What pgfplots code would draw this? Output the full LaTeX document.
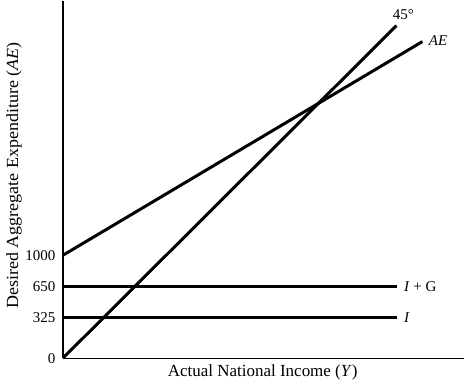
\documentclass[border=0pt]{standalone}
\usepackage{pgfplots}
\pgfplotsset{compat=1.18}
\usepackage{fontspec}
\setmainfont{Liberation Serif}
\begin{document}
\begin{tikzpicture}[x=1pt,y=1pt]
\begin{axis}[
  scale only axis,
  width=402pt, height=358pt,
  xmin=0, xmax=402, ymin=0, ymax=358,
  axis x line=bottom, axis y line=left,
  axis line style={-, line width=1.2pt},
  xtick=\empty,
  ytick={0,41,72,103},
  yticklabels={0,325,650,1000},
  major tick length=0pt,
  yticklabel style={font=\fontsize{15}{17}\selectfont, xshift=-4pt},
  /pgf/number format/assume math mode=true,
  clip=false,
]
\path (axis cs:-63,-24) rectangle (axis cs:402,358);
\addplot[black, line width=3pt] coordinates {(0,41) (335,41)};
\addplot[black, line width=3pt] coordinates {(0,72) (335,72)};
\addplot[black, line width=3pt] coordinates {(0,103) (360,317)};
\addplot[black, line width=3pt] coordinates {(0,0) (334,333)};
\node[font=\fontsize{15}{17}\selectfont, anchor=west] at (axis cs:338,41) {\textit{I}};
\node[font=\fontsize{15}{17}\selectfont, anchor=west] at (axis cs:338,72) {\textit{I} + G};
\node[font=\fontsize{15}{17}\selectfont, anchor=west] at (axis cs:363,318) {\textit{AE}};
\node[font=\fontsize{15}{17}\selectfont] at (axis cs:341,344) {45°};
\node[font=\fontsize{17}{19}\selectfont] at (axis cs:200,-14) {Actual National Income (\textit{Y})};
\node[font=\fontsize{17}{19}\selectfont, rotate=90] at (axis cs:-49,183) {\scalebox{1.06}[1]{Desired Aggregate Expenditure (\textit{AE})}};
\end{axis}
\end{tikzpicture}
\end{document}
